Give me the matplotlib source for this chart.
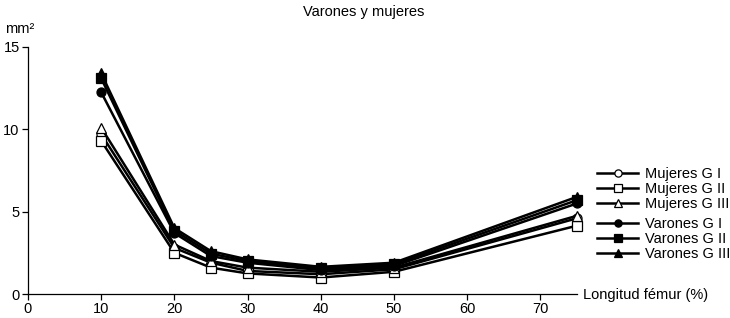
import matplotlib
matplotlib.use("Agg")
import matplotlib.pyplot as plt

x = [10, 20, 25, 30, 40, 50, 75]
series_names = ["Mujeres G I", "Mujeres G II", "Mujeres G III",
                "Varones G I", "Varones G II", "Varones G III"]
mujeres_g1 = [9.7, 2.8, 1.9, 1.4, 1.2, 1.5, 4.6]
mujeres_g2 = [9.3, 2.5, 1.6, 1.25, 1.0, 1.35, 4.15]
mujeres_g3 = [10.1, 3.0, 2.0, 1.6, 1.35, 1.6, 4.75]
varones_g1 = [12.25, 3.7, 2.3, 1.9, 1.45, 1.7, 5.5]
varones_g2 = [13.1, 3.85, 2.45, 2.0, 1.55, 1.8, 5.7]
varones_g3 = [13.4, 4.0, 2.6, 2.1, 1.65, 1.9, 5.9]
xticks = [0, 10, 20, 30, 40, 50, 60, 70]
yticks = [0, 5, 10, 15]

plt.rcParams['font.family'] = ['Liberation Sans', 'DejaVu Sans']

fig = plt.figure(figsize=(7.3, 3.18), dpi=100)
ax = fig.add_axes([28/730, 24/318, (577-28)/730, (294-47)/318])

data = [mujeres_g1, mujeres_g2, mujeres_g3, varones_g1, varones_g2, varones_g3]
markers = ['o', 's', '^', 'o', 's', '^']
fills = ['white', 'white', 'white', 'black', 'black', 'black']
handles = []
for name, y, m, fc in zip(series_names, data, markers, fills):
    h, = ax.plot(x, y, color='black', lw=1.8, marker=m, ms=6.5,
                 mfc=fc, mec='black', mew=0.9, label=name, clip_on=False)
    handles.append(h)

ax.set_xlim(0, 75)
ax.set_ylim(0, 15)
ax.set_xticks(xticks)
ax.set_yticks(yticks)
ax.spines['top'].set_visible(False)
ax.spines['right'].set_visible(False)
ax.spines['left'].set_linewidth(0.9)
ax.spines['bottom'].set_linewidth(0.9)
ax.tick_params(direction='out', length=4, width=0.9, labelsize=10.5, pad=2)

fig.text(364/730, 1 - 12/318, "Varones y mujeres", ha='center', va='center', fontsize=10.5)
fig.text(5/730, 1 - 29/318, "mm²", ha='left', va='center', fontsize=10.5)
fig.text(583/730, 1 - 295/318, "Longitud fémur (%)", ha='left', va='center', fontsize=10.5)

common = dict(loc='upper left', frameon=False, fontsize=10.5, handlelength=2.8,
              labelspacing=0.05, borderpad=0, handletextpad=0.5, markerscale=0.8)
leg1 = ax.legend(handles=handles[:3], bbox_to_anchor=(590/730, 1 - 160/318),
                 bbox_transform=fig.transFigure, **common)
ax.add_artist(leg1)
leg2 = ax.legend(handles=handles[3:], bbox_to_anchor=(590/730, 1 - 210/318),
                 bbox_transform=fig.transFigure, **common)

fig.savefig("out.png", dpi=100)
